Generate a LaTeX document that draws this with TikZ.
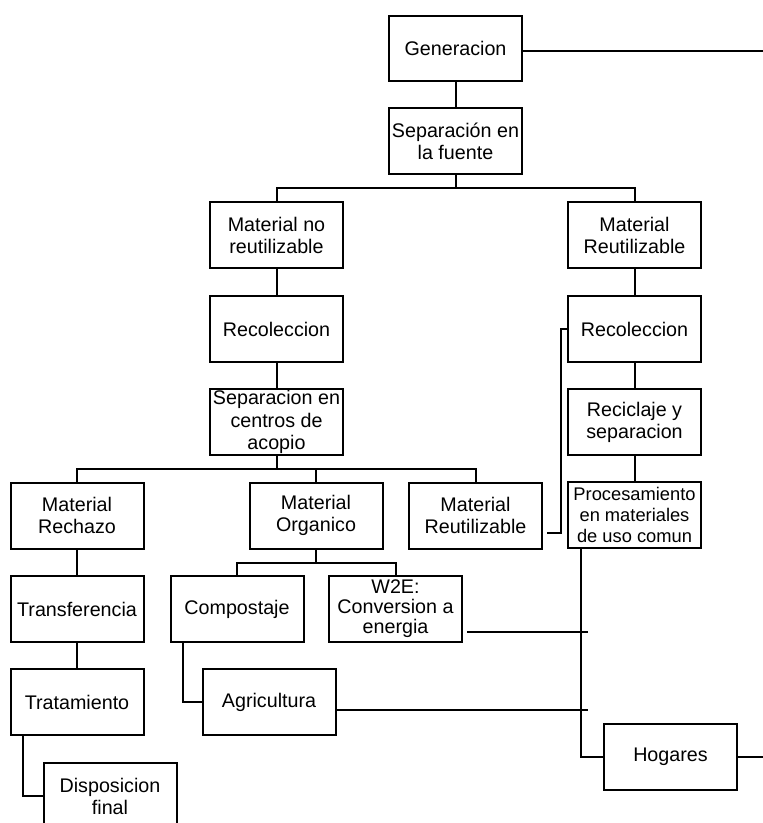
\documentclass[tikz,border=0pt]{standalone}
\usepackage{fontspec}
\setmainfont{Liberation Sans}
\begin{document}
\begin{tikzpicture}[x=1pt,y=-1pt,
  box/.style={draw, line width=2pt, minimum width=133pt, minimum height=66pt,
    inner sep=0pt, align=center, font=\fontsize{19.7}{22}\selectfont},
  conn/.style={line width=2pt},
  thin/.style={line width=1.3pt}]
\useasboundingbox[fill=white] (0,0) rectangle (763,823);

\node[box, minimum height=65pt] (gen) at (455.5,48.5) {Generacion};
\node[box] (sep) at (455.5,141) {Separación en\\la fuente};
\node[box] (mnr) at (276.5,235) {Material no\\reutilizable};
\node[box] (mr) at (634.5,235) {Material\\Reutilizable};
\node[box] (rec1) at (276.5,329) {Recoleccion};
\node[box] (rec2) at (634.5,329) {Recoleccion};
\node[box, font=\fontsize{19.7}{22.5}\selectfont] (sca) at (276.5,422) {Separacion en\\centros de\\acopio};
\node[box] (rys) at (634.5,422) {Reciclaje y\\separacion};
\node[box] (mrech) at (77,515.5) {Material\\Rechazo};
\node[box] (morg) at (316,515.5) {Material\\Organico};
\node[box] (mreu) at (475.5,515.5) {Material\\Reutilizable};
\node[box, font=\fontsize{18.3}{21}\selectfont] (proc) at (634.5,515) {Procesamiento\\en materiales\\de uso comun};
\node[box] (trans) at (77,609) {Transferencia};
\node[box] (comp) at (237,609) {Compostaje};
\node[box, font=\fontsize{19.7}{20}\selectfont] (w2e) at (395.5,609) {W2E:\\Conversion a\\energia};
\node[box] (trat) at (77,702) {Tratamiento};
\node[box] (agri) at (269,702) {Agricultura};
\node[box] (disp) at (110,796) {Disposicion\\final};
\node[box] (hog) at (670.5,757) {Hogares};

\coordinate (bus1) at (0,188);
\coordinate (bus2) at (0,469);
\coordinate (bus3) at (0,563);
\coordinate (genout) at (763,51);
\coordinate (hogout) at (763,757);
\coordinate (w2estart) at (467,632);
\coordinate (w2eend) at (588,632);
\coordinate (agrend) at (588,710);
\coordinate (mreustart) at (547,533);
\coordinate (mreuturn) at (561,533);

\draw[conn] (gen.south) -- (sep.north);
\draw[conn] (gen.east |- genout) -- (genout);
\draw[conn] (sep.south) -- (sep.south |- bus1);
\draw[conn] (mnr.north) -- (mnr.north |- bus1) -- (mr.north |- bus1) -- (mr.north);
\draw[conn] (mnr.south) -- (rec1.north);
\draw[conn] (rec1.south) -- (sca.north);
\draw[conn] (mr.south) -- (rec2.north);
\draw[conn] (rec2.south) -- (rys.north);
\draw[conn] (rys.south) -- (proc.north);
\draw[conn] (sca.south) -- (sca.south |- bus2);
\draw[conn] (mrech.north) -- (mrech.north |- bus2) -- (mreu.north |- bus2) -- (mreu.north);
\draw[conn] (morg.north) -- (morg.north |- bus2);
\draw[conn] (morg.south) -- (morg.south |- bus3);
\draw[conn] (comp.north) -- (comp.north |- bus3) -- (w2e.north |- bus3) -- (w2e.north);
\draw[conn] (mrech.south) -- (trans.north);
\draw[conn] (trans.south) -- (trat.north);
\draw[conn] ([xshift=13pt]trat.south west) |- (disp.west);
\draw[conn] ([xshift=13pt]comp.south west) |- (agri.west);
\draw[conn] ([xshift=14pt]proc.south west) |- (hog.west);
\draw[conn] (hog.east) -- (hogout);
\draw[thin] (w2estart) -- (w2eend);
\draw[thin] (agri.east |- agrend) -- (agrend);
\draw[thin] (mreustart) -- (mreuturn) |- (rec2.west);
\end{tikzpicture}
\end{document}
